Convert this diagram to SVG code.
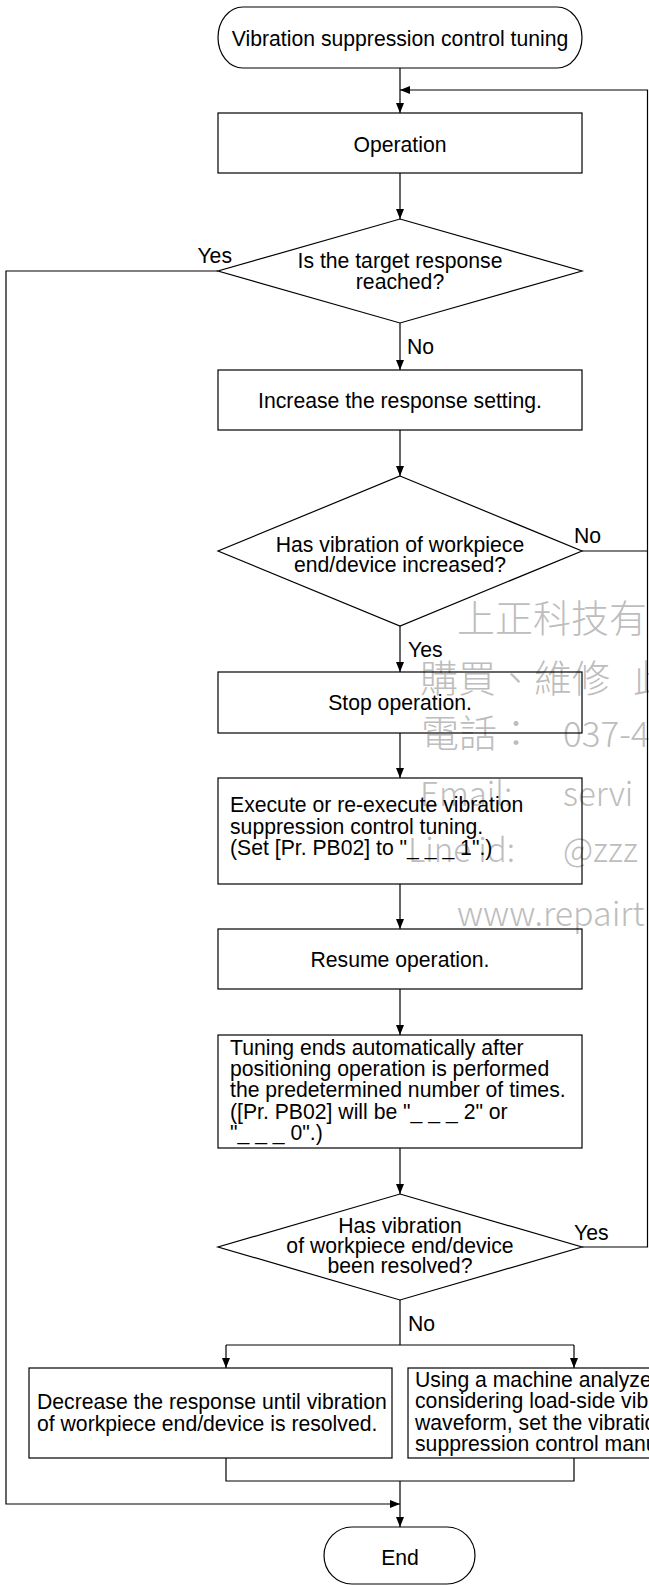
<svg xmlns="http://www.w3.org/2000/svg" width="649" height="1585" viewBox="0 0 649 1585">
<style>
.bg{fill:#fff}
.shape{fill:none;stroke:#000;stroke-width:1.2}
.t{font-family:"Liberation Sans",Arial,sans-serif;font-size:21.2px;fill:#000}
.c{text-anchor:middle}
.con{fill:none;stroke:#000;stroke-width:1.2}
.wm{font-family:"Noto Sans CJK TC","Noto Sans",sans-serif;fill:#bdbdbd;font-weight:300}
</style>
<defs>
<marker id="arr" viewBox="0 0 10 8" refX="10" refY="4" markerWidth="10" markerHeight="8" markerUnits="userSpaceOnUse" orient="auto">
<path d="M0,0 L10,4 L0,8 z" fill="#000"/>
</marker>
</defs>
<rect class="bg" x="0" y="0" width="649" height="1585"/>

<g id="watermark">
<text class="wm" x="457" y="632" font-size="38">上正科技有</text>
<text class="wm" x="420" y="692" font-size="38">購買、維修</text>
<text class="wm" x="633" y="692" font-size="38">此</text>
<text class="wm" x="421" y="747" font-size="38">電話：</text>
<text class="wm" x="563" y="747" font-size="35">037-4</text>
<text class="wm" x="420" y="806" font-size="33">Email:</text>
<text class="wm" x="563" y="806" font-size="33">servi</text>
<text class="wm" x="408" y="862" font-size="33">Line id:</text>
<text class="wm" x="563" y="862" font-size="33">@zzz</text>
<text class="wm" x="457" y="926" font-size="34">www.repairt</text>
</g>

<g id="connectors">
<path class="con" d="M400,68 V113" marker-end="url(#arr)"/>
<path class="con" d="M582,1247 H647.5 V90 H400" marker-end="url(#arr)"/>
<path class="con" d="M582,551 H647.5"/>
<path class="con" d="M400,173 V219" marker-end="url(#arr)"/>
<path class="con" d="M218,271 H6 V1504 H400" marker-end="url(#arr)"/>
<path class="con" d="M400,323 V370" marker-end="url(#arr)"/>
<path class="con" d="M400,430 V476" marker-end="url(#arr)"/>
<path class="con" d="M400,626 V672" marker-end="url(#arr)"/>
<path class="con" d="M400,733 V778" marker-end="url(#arr)"/>
<path class="con" d="M400,884 V929" marker-end="url(#arr)"/>
<path class="con" d="M400,989 V1035" marker-end="url(#arr)"/>
<path class="con" d="M400,1148 V1194" marker-end="url(#arr)"/>
<path class="con" d="M400,1300 V1345 M226,1345 H574"/>
<path class="con" d="M226,1345 V1368" marker-end="url(#arr)"/>
<path class="con" d="M574,1345 V1368" marker-end="url(#arr)"/>
<path class="con" d="M226,1458 V1481 H574 V1458"/>
<path class="con" d="M400,1481 V1527" marker-end="url(#arr)"/>
<text class="t" x="232" y="263" text-anchor="end">Yes</text>
<text class="t" x="407" y="354">No</text>
<text class="t" x="574" y="543">No</text>
<text class="t" x="408" y="657">Yes</text>
<text class="t" x="574" y="1240">Yes</text>
<text class="t" x="408" y="1331">No</text>
</g>

<g id="start">
<rect class="shape" x="218" y="7" width="364" height="61" rx="25" ry="30.5"/>
<text class="t c" x="400" y="45.5">Vibration suppression control tuning</text>
</g>
<g id="operation">
<rect class="shape" x="218" y="113" width="364" height="60"/>
<text class="t c" x="400" y="151.5">Operation</text>
</g>
<g id="target-reached">
<polygon class="shape" points="400,219 582,271 400,323 218,271"/>
<text class="t c" x="400" y="268">Is the target response</text>
<text class="t c" x="400" y="289">reached?</text>
</g>
<g id="increase">
<rect class="shape" x="218" y="370" width="364" height="60"/>
<text class="t c" x="400" y="408">Increase the response setting.</text>
</g>
<g id="vibration-increased">
<polygon class="shape" points="400,476 582,551 400,626 218,551"/>
<text class="t c" x="400" y="552">Has vibration of workpiece</text>
<text class="t c" x="400" y="572">end/device increased?</text>
</g>
<g id="stop">
<rect class="shape" x="218" y="672" width="364" height="61"/>
<text class="t c" x="400" y="710">Stop operation.</text>
</g>
<g id="execute">
<rect class="shape" x="218" y="778" width="364" height="106"/>
<text class="t" x="230" y="812">Execute or re-execute vibration</text>
<text class="t" x="230" y="833.5">suppression control tuning.</text>
<text class="t" x="230" y="855">(Set [Pr. PB02] to "_ _ _ 1".)</text>
</g>
<g id="resume">
<rect class="shape" x="218" y="929" width="364" height="60"/>
<text class="t c" x="400" y="967">Resume operation.</text>
</g>
<g id="tuning-ends">
<rect class="shape" x="218" y="1035" width="364" height="113"/>
<text class="t" x="230" y="1055">Tuning ends automatically after</text>
<text class="t" x="230" y="1076">positioning operation is performed</text>
<text class="t" x="230" y="1097">the predetermined number of times.</text>
<text class="t" x="230" y="1118.5">([Pr. PB02] will be "_ _ _ 2" or</text>
<text class="t" x="230" y="1140">"_ _ _ 0".)</text>
</g>
<g id="vibration-resolved">
<polygon class="shape" points="400,1194 582,1247 400,1300 218,1247"/>
<text class="t c" x="400" y="1233">Has vibration</text>
<text class="t c" x="400" y="1253">of workpiece end/device</text>
<text class="t c" x="400" y="1273">been resolved?</text>
</g>
<g id="decrease">
<rect class="shape" x="29" y="1368" width="363" height="90"/>
<text class="t" x="37" y="1409">Decrease the response until vibration</text>
<text class="t" x="37" y="1431">of workpiece end/device is resolved.</text>
</g>
<g id="manual">
<rect class="shape" x="408" y="1368" width="363" height="90"/>
<text class="t" x="415" y="1387">Using a machine analyzer or</text>
<text class="t" x="415" y="1408">considering load-side vibration</text>
<text class="t" x="415" y="1430">waveform, set the vibration</text>
<text class="t" x="415" y="1451">suppression control manually.</text>
</g>
<g id="end">
<rect class="shape" x="324" y="1527" width="151" height="57" rx="28" ry="28.5"/>
<text class="t c" x="400" y="1565">End</text>
</g>
</svg>
